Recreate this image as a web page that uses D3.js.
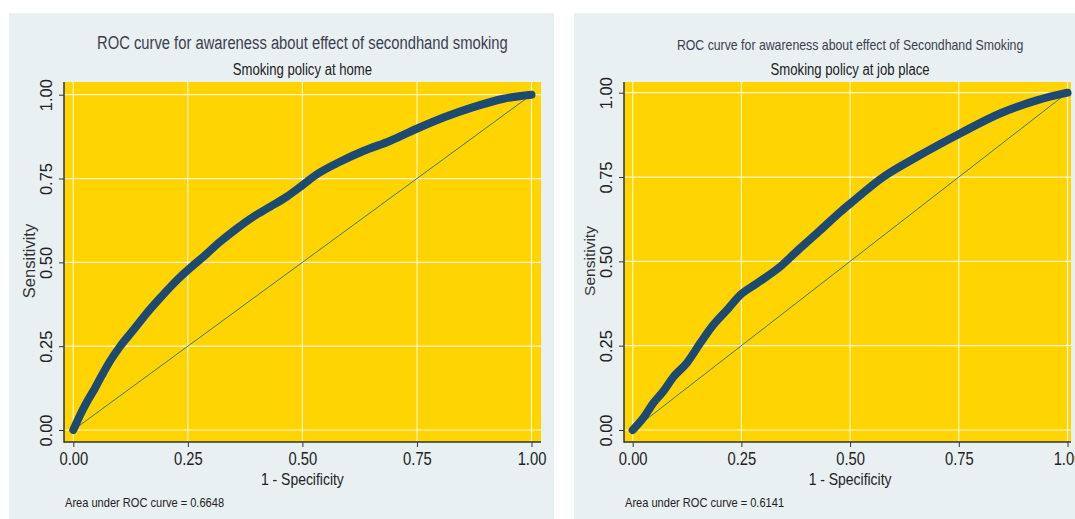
<!DOCTYPE html>
<html>
<head>
<meta charset="utf-8">
<script src="https://cdn.jsdelivr.net/npm/d3@7"></script>
<style>
  body { margin: 0; background: #ffffff; }
  svg text { font-family: "Liberation Sans", Arial, sans-serif; }
</style>
</head>
<body>
<div id="chart"></div>
<script>
// ROC curve points (1 - specificity, sensitivity)
var homeFpr = [0, 0.015, 0.029, 0.047, 0.062, 0.080, 0.102, 0.131, 0.160, 0.189, 0.219, 0.25, 0.284, 0.321, 0.357, 0.393, 0.430, 0.466, 0.50, 0.531, 0.582, 0.633, 0.691, 0.752, 0.808, 0.873, 0.939, 1.0];
var homeTpr = [0, 0.045, 0.082, 0.124, 0.162, 0.205, 0.249, 0.298, 0.348, 0.393, 0.437, 0.477, 0.517, 0.562, 0.601, 0.636, 0.666, 0.696, 0.730, 0.762, 0.800, 0.832, 0.862, 0.900, 0.932, 0.963, 0.988, 1.0];

var jobFpr = [0, 0.024, 0.047, 0.070, 0.094, 0.124, 0.155, 0.182, 0.217, 0.247, 0.286, 0.339, 0.385, 0.432, 0.478, 0.501, 0.577, 0.654, 0.754, 0.846, 0.931, 1.0];
var jobTpr = [0, 0.035, 0.079, 0.114, 0.158, 0.198, 0.257, 0.306, 0.356, 0.400, 0.435, 0.484, 0.539, 0.593, 0.647, 0.672, 0.751, 0.810, 0.880, 0.939, 0.978, 1.0];

var tickValues = [0, 0.25, 0.5, 0.75, 1];
var titles = ["ROC curve for awareness about effect of secondhand smoking", "ROC curve for awareness about effect of Secondhand Smoking"];
var subtitles = ["Smoking policy at home", "Smoking policy at job place"];
var aucLabels = ["Area under ROC curve = 0.6648", "Area under ROC curve = 0.6141"];

var W = 1075, H = 519;
var NARROW = 0.82; // no Arial Narrow installed, so squeeze Liberation Sans

function condense(sel, k) {
  sel.each(function () {
    var w = this.getComputedTextLength();
    d3.select(this).attr("textLength", w * k).attr("lengthAdjust", "spacingAndGlyphs");
  });
}

var svg = d3.select("#chart").append("svg")
  .attr("width", W)
  .attr("height", H);

var panels = [
  { fpr: homeFpr, tpr: homeTpr, title: titles[0], sub: subtitles[0], auc: aucLabels[0],
    bg: [9, 13, 545, 506], box: [64, 82, 541, 442], xr: [73.3, 531.5], yr: [430, 94.7],
    titleSize: 18, subSize: 16, sensSize: 16.5, titleY: 49 },
  { fpr: jobFpr, tpr: jobTpr, title: titles[1], sub: subtitles[1], auc: aucLabels[1],
    bg: [574, 13, 501, 506], box: [624, 82, 1071, 442], xr: [632.7, 1067.5], yr: [430, 92.7],
    titleSize: 15, subSize: 16, sensSize: 15.5, titleY: 50 }
];

panels.forEach(function (p) {
  var g = svg.append("g");

  g.append("rect")
    .attr("x", p.bg[0]).attr("y", p.bg[1])
    .attr("width", p.bg[2]).attr("height", p.bg[3])
    .attr("fill", "#e9f0f2");

  var left = p.box[0], top = p.box[1], right = p.box[2], bottom = p.box[3];
  var cx = (p.xr[0] + p.xr[1]) / 2;

  g.append("rect")
    .attr("x", left).attr("y", top)
    .attr("width", right - left).attr("height", bottom - top)
    .attr("fill", "#ffd400");

  var x = d3.scaleLinear().domain([0, 1]).range(p.xr);
  var y = d3.scaleLinear().domain([0, 1]).range(p.yr);

  // grid
  g.selectAll(".gx").data(tickValues).enter().append("line")
    .attr("x1", function (d) { return x(d); }).attr("x2", function (d) { return x(d); })
    .attr("y1", top).attr("y2", bottom)
    .attr("stroke", "#fff6d0").attr("stroke-width", 1.2);
  g.selectAll(".gy").data(tickValues).enter().append("line")
    .attr("y1", function (d) { return y(d); }).attr("y2", function (d) { return y(d); })
    .attr("x1", left).attr("x2", right)
    .attr("stroke", "#fff6d0").attr("stroke-width", 1.2);

  // diagonal reference
  g.append("line")
    .attr("x1", x(0)).attr("y1", y(0))
    .attr("x2", x(1)).attr("y2", y(1))
    .attr("stroke", "#3f7a66").attr("stroke-width", 1);

  var pts = p.fpr.map(function (d, i) { return [d, p.tpr[i]]; });

  var line = d3.line()
    .x(function (d) { return x(d[0]); })
    .y(function (d) { return y(d[1]); })
    .curve(d3.curveMonotoneX);

  g.append("path")
    .datum(pts)
    .attr("d", line)
    .attr("fill", "none")
    .attr("stroke", "#1d4a72")
    .attr("stroke-width", 8)
    .attr("stroke-linejoin", "round")
    .attr("stroke-linecap", "round");

  // axes
  var xAxis = d3.axisBottom(x).tickValues(tickValues).tickFormat(d3.format(".2f"))
    .tickSize(5).tickSizeOuter(0).tickPadding(5);
  var ax = g.append("g").attr("transform", "translate(0," + bottom + ")").call(xAxis);
  ax.select(".domain").remove();
  ax.selectAll(".tick line").attr("stroke", "#333");
  ax.selectAll(".tick text").attr("font-size", 18).attr("fill", "#222")
    .attr("font-family", "'Liberation Sans', Arial, sans-serif");
  condense(ax.selectAll(".tick text"), NARROW);

  var yAxis = d3.axisLeft(y).tickValues(tickValues).tickFormat(d3.format(".2f"))
    .tickSize(5).tickSizeOuter(0);
  var ay = g.append("g").attr("transform", "translate(" + left + ",0)").call(yAxis);
  ay.select(".domain").remove();
  ay.selectAll(".tick line").attr("stroke", "#333");
  ay.selectAll(".tick text")
    .attr("transform", "rotate(-90)")
    .attr("x", 0).attr("y", -18).attr("dy", "0.35em")
    .attr("text-anchor", "middle")
    .attr("font-size", 16.5).attr("fill", "#222")
    .attr("font-family", "'Liberation Sans', Arial, sans-serif");

  // axis frame lines
  g.append("line").attr("x1", left).attr("x2", left).attr("y1", top).attr("y2", bottom + 0.75)
    .attr("stroke", "#333").attr("stroke-width", 1.5);
  g.append("line").attr("x1", left).attr("x2", right).attr("y1", bottom).attr("y2", bottom)
    .attr("stroke", "#333").attr("stroke-width", 1.5);

  // titles
  var t1 = g.append("text").attr("x", cx).attr("y", p.titleY)
    .attr("text-anchor", "middle").attr("font-size", p.titleSize).attr("fill", "#3a3f4f")
    .text(p.title);
  var t2 = g.append("text").attr("x", cx).attr("y", 75)
    .attr("text-anchor", "middle").attr("font-size", p.subSize).attr("fill", "#222")
    .text(p.sub);

  var t3 = g.append("text").attr("x", cx).attr("y", 485)
    .attr("text-anchor", "middle").attr("font-size", 17).attr("fill", "#222")
    .text("1 - Specificity");

  g.append("text")
    .attr("transform", "translate(" + (left - 29) + "," + ((top + bottom) / 2 - 1) + ") rotate(-90)")
    .attr("text-anchor", "middle").attr("font-size", p.sensSize).attr("fill", "#333")
    .text("Sensitivity");

  var t4 = g.append("text").attr("x", left + 1).attr("y", 507)
    .attr("font-size", 13.5).attr("fill", "#222")
    .text(p.auc);

  [t1, t2, t3, t4].forEach(function (t) { condense(t, NARROW); });
});
</script>
</body>
</html>
